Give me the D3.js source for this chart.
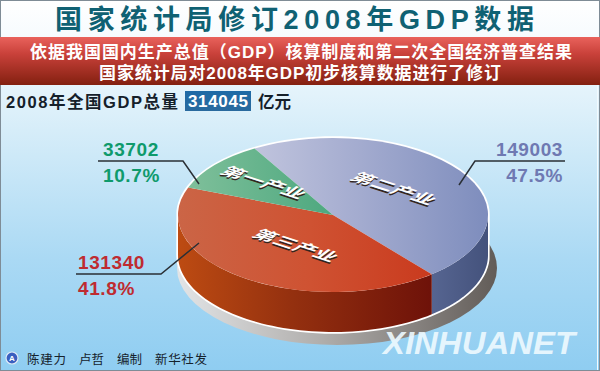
<!DOCTYPE html>
<html><head><meta charset="utf-8">
<script src="https://cdnjs.cloudflare.com/ajax/libs/d3/7.8.5/d3.min.js"></script>
<style>html,body{margin:0;padding:0;background:#fff}svg{display:block}
text{font-family:"Liberation Sans","Noto Sans CJK SC",sans-serif}</style></head><body>
<svg id="c" width="600" height="371"></svg>
<script>
const categories=["第二产业","第三产业","第一产业"];
const values=[149003,131340,33702];
const shares=["47.5%","41.8%","10.7%"];
const total=314045;
const title="国家统计局修订2008年GDP数据";
const bandLines=["依据我国国内生产总值（GDP）核算制度和第二次全国经济普查结果","国家统计局对2008年GDP初步核算数据进行了修订"];

const svg=d3.select("#c"),defs=svg.append("defs");
function grad(id,stops,o={}){
  const g=defs.append("linearGradient").attr("id",id);
  Object.entries(o).forEach(([k,v])=>g.attr(k,v));
  stops.forEach(([p,c])=>g.append("stop").attr("offset",p).attr("stop-color",c));
}
grad("bg",[[0,"#ffffff"],[.1,"#f6fbfe"],[.35,"#d6edf9"],[.7,"#aad9f4"],[1,"#8fcdf1"]],{x1:0,y1:0,x2:0,y2:1});
grad("band",[[0,"#e9625c"],[.35,"#c9413a"],[1,"#832010"]],{x1:0,y1:0,x2:0,y2:1});
grad("box",[[0,"#1e6aa6"],[1,"#2a6a9e"]],{x1:0,y1:0,x2:0,y2:1});
svg.append("rect").attr("x",.5).attr("y",.5).attr("width",599).attr("height",370).attr("fill","url(#bg)").attr("stroke","#7f8c96");
svg.append("line").attr("x1",597.5).attr("x2",597.5).attr("y1",85).attr("y2",370).attr("stroke","#f2fafe").attr("stroke-width",1);
svg.append("rect").attr("x",0).attr("y",37).attr("width",600).attr("height",48).attr("fill","url(#band)");

svg.append("text").attr("x",55).attr("y",29).attr("textLength",479).attr("lengthAdjust","spacing")
  .attr("font-size",27).attr("font-weight",700).attr("fill","#0f6173").text(title);
[[30,542,58],[99,402,79]].forEach(([x,w,y],i)=>svg.append("text").attr("x",x).attr("y",y).attr("textLength",w).attr("lengthAdjust","spacing")
  .attr("font-size",17).attr("font-weight",700).attr("fill","#fff").text(bandLines[i]));

svg.append("text").attr("x",6).attr("y",108).attr("textLength",172).attr("lengthAdjust","spacing")
  .attr("font-size",16.5).attr("font-weight",700).attr("fill","#15202a").text("2008年全国GDP总量");
svg.append("rect").attr("x",185).attr("y",91).attr("width",66).attr("height",20).attr("fill","url(#box)");
svg.append("text").attr("x",218).attr("y",107).attr("text-anchor","middle").attr("font-size",17).attr("font-weight",700)
  .attr("font-family","Open Sans").attr("fill","#fff").attr("textLength",60).text(total);
svg.append("text").attr("x",258).attr("y",108).attr("font-size",16.5).attr("font-weight",700).attr("fill","#15202a").text("亿元");

// pie geometry
const cx=333,cy=215,rx=155,ry=77,depth=40;
const startA=-30.4*Math.PI/180;
const pie=d3.pie().sort(null).startAngle(startA).endAngle(startA+2*Math.PI)(values);
const px=a=>cx+rx*Math.sin(a), py=(a,d=0)=>cy+d-ry*Math.cos(a);

// cast shadow
grad("shadow",[[0,"#e2e4e6"],[.45,"#b0aeac"],[1,"#625c58"]],{x1:0,y1:0,x2:1,y2:0});
svg.append("ellipse").attr("cx",cx+4).attr("cy",cy+53).attr("rx",rx+5).attr("ry",ry).attr("fill","url(#shadow)");

const U={gradientUnits:"userSpaceOnUse"};
grad("t0",[[0,"#c6c9e0"],[.5,"#a3abcf"],[1,"#7e8dbd"]],{...U,x1:-100,x2:rx,y1:0,y2:0});
grad("t1",[[0,"#cb6546"],[.5,"#cf5232"],[1,"#c9381c"]],{...U,x1:-rx,x2:110,y1:0,y2:0});
grad("t2",[[0,"#82c19c"],[1,"#4da87f"]],{...U,x1:-rx,x2:0,y1:0,y2:0});
grad("s0",[[0,"#566591"],[1,"#44527c"]],{...U,x1:px(pie[0].endAngle),x2:cx+rx,y1:0,y2:0});
grad("s1",[[0,"#bd4b12"],[.45,"#94300f"],[1,"#6e1209"]],{...U,x1:cx-rx,x2:px(pie[1].startAngle),y1:0,y2:0});

const wall=(a0,a1)=>{
  const n=60,ts=d3.range(n+1).map(i=>a0+(a1-a0)*i/n);
  return d3.line()(ts.map(t=>[px(t),py(t)]).concat(ts.slice().reverse().map(t=>[px(t),py(t,depth)])))+"Z";
};
const R=Math.PI/2;
// silhouette white rim
const rim=d3.range(0,361,3).map(d=>d*Math.PI/180).map(t=>Math.cos(t)<0?[px(t),py(t,depth)]:[px(t),py(t)]);
svg.append("path").attr("d",d3.line()(rim)+"Z").attr("fill","#fff").attr("stroke","#fff").attr("stroke-width",3.5);

svg.append("path").attr("d",wall(R,pie[0].endAngle)).attr("fill","url(#s0)");
svg.append("path").attr("d",wall(pie[1].startAngle,3*R)).attr("fill","url(#s1)");

const face=svg.append("g").attr("transform",`translate(${cx},${cy}) scale(1,${ry/rx})`);
const arc=d3.arc().innerRadius(0).outerRadius(rx);
face.selectAll("path").data(pie).join("path").attr("d",arc).attr("fill",(d,i)=>`url(#t${i})`);

// slice labels
[[389,192],[291,249],[259,186]].forEach(([x,y],i)=>{
  const g=svg.append("g").attr("transform",`translate(${x},${y}) scale(1,.5) rotate(33)`);
  g.append("text").attr("x",1.5).attr("y",3).attr("text-anchor","middle").attr("font-size",24).attr("font-weight",700).attr("fill","#33261f").text(categories[i]);
  g.append("text").attr("text-anchor","middle").attr("font-size",24).attr("font-weight",700).attr("fill","#fff").text(categories[i]);
});

// callouts
const callouts=[
 {pts:[[565,161],[475,161],[459,185]],anchor:"end",x:563,color:"#6f79b2"},
 {pts:[[76,274],[161,274],[199,243]],anchor:"start",x:78,color:"#bf2b30"},
 {pts:[[98,161],[183,161],[199,184]],anchor:"start",x:103,color:"#0f9a6c"}];
callouts.forEach((c,i)=>{
  svg.append("path").attr("d",d3.line()(c.pts)).attr("fill","none").attr("stroke","#2a2f35").attr("stroke-width",1.5);
  const y=c.pts[0][1];
  [[values[i],y-5],[shares[i],y+21]].forEach(([t,yy])=>svg.append("text").attr("x",c.x).attr("y",yy).attr("text-anchor",c.anchor)
    .attr("font-family","Open Sans").attr("font-weight",700).attr("font-size",19).attr("letter-spacing",.6).attr("fill",c.color).text(t));
});

// watermark
svg.append("text").attr("x",383).attr("y",354).attr("textLength",192).attr("lengthAdjust","spacingAndGlyphs")
  .attr("font-family","Liberation Sans").attr("font-style","italic").attr("font-weight",700).attr("font-size",31)
  .attr("fill","#eefaff").attr("opacity",.9).text("XINHUANET");

// footer
svg.append("circle").attr("cx",12).attr("cy",358).attr("r",6).attr("fill","#3a5fc0").attr("stroke","#dfe9f5").attr("stroke-width",1.2);
svg.append("text").attr("x",12).attr("y",361).attr("text-anchor","middle").attr("font-size",8).attr("font-weight",700).attr("fill","#fff").text("A");
[["陈建力",27,39],["卢哲",79,25],["编制",117,25],["新华社发",155,52]].forEach(([t,x,w])=>
  svg.append("text").attr("x",x).attr("y",364).attr("textLength",w).attr("lengthAdjust","spacing").attr("font-size",12.5).attr("fill","#16222c").text(t));
</script></body></html>
